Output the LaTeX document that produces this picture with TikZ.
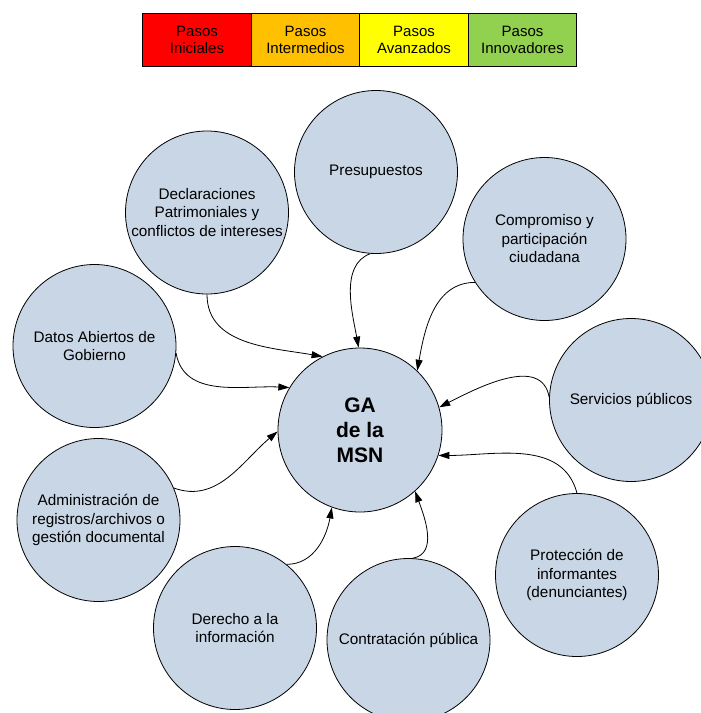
\documentclass[tikz,border=0pt]{standalone}
\usepackage{fontspec}
\setmainfont{Liberation Sans}
\usetikzlibrary{arrows.meta}
\definecolor{circfill}{RGB}{200,214,229}
\definecolor{stepred}{RGB}{255,0,0}
\definecolor{steporange}{RGB}{255,192,0}
\definecolor{stepyellow}{RGB}{255,255,0}
\definecolor{stepgreen}{RGB}{146,208,80}
\begin{document}
\begin{tikzpicture}[x=1pt,y=-1pt,
  legendbox/.style={draw=black,line width=0.8pt,minimum width=108.5pt,minimum height=53pt,
    inner sep=0pt,align=center,font=\fontsize{15}{17}\selectfont},
  topic/.style={circle,draw=black,line width=0.8pt,fill=circfill,minimum size=163pt,
    inner sep=0pt,align=center,font=\fontsize{15.3}{18.5}\selectfont},
  hub/.style={topic,minimum size=164pt,font=\fontsize{21}{25}\selectfont\bfseries},
  link/.style={draw=black,line width=0.8pt,-{Triangle[length=11pt,width=7pt]}}]
\useasboundingbox (0,0) rectangle (701,713);

% legend of the step levels
\node[legendbox,fill=stepred]    (leg1) at (197,39.5)   {Pasos\\Iniciales};
\node[legendbox,fill=steporange] (leg2) at (305.5,39.5) {Pasos\\Intermedios};
\node[legendbox,fill=stepyellow] (leg3) at (414,39.5)   {Pasos\\Avanzados};
\node[legendbox,fill=stepgreen]  (leg4) at (522.5,39.5) {Pasos\\Innovadores};

% central hub and the surrounding topics
\node[hub]   (ga)    at (360,430)   {GA\\de la\\MSN};
\node[topic] (decl)  at (207,212.5) {Declaraciones\\Patrimoniales y\\conflictos de intereses};
\node[topic] (pres)  at (376,172)   {Presupuestos};
\node[topic] (comp)  at (544.5,239) {Compromiso y\\participación\\ciudadana};
\node[topic] (datos) at (94.5,346)  {Datos Abiertos de\\Gobierno};
\node[topic] (serv)  at (631,400)   {Servicios públicos};
\node[topic] (adm)   at (98.5,520)  {Administración de\\registros/archivos o\\gestión documental};
\node[topic] (der)   at (235,628)   {Derecho a la\\información};
\node[topic] (contr) at (408.5,640) {Contratación pública};
\node[topic] (prot)  at (577,575)   {Protección de\\informantes\\(denunciantes)};

% connectors into the hub
\draw[link] (decl.-90)  to[out=-90,in=170] (ga.117);
\draw[link] (pres.-94)  to[out=200,in=100,looseness=0.9] (ga.91);
\draw[link] (comp.-148) to[out=180,in=80] (ga.46);
\draw[link] (serv.178)  to[out=100,in=27] (ga.16);
\draw[link] (prot.90)   to[out=105,in=0] (ga.-18);
\draw[link] (contr.87)  to[out=10,in=-70] (ga.-48);
\draw[link] (der.51)    to[out=0,in=-100] (ga.-110);
\draw[link] (adm.23)    to[out=-20,in=220] (ga.181);
\draw[link] (datos.-5)  to[out=-80,in=177] (ga.149);
\end{tikzpicture}
\end{document}
